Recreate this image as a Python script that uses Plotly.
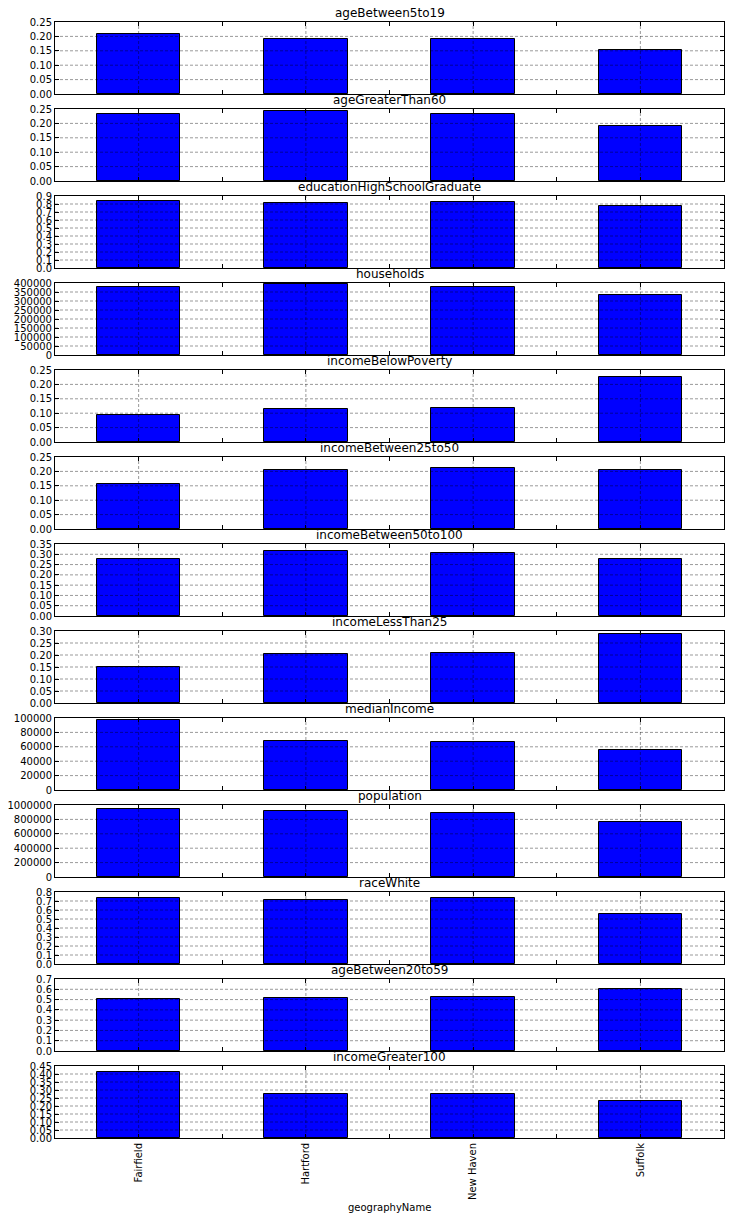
import plotly.graph_objects as go

counties = ["Fairfield", "Hartford", "New Haven", "Suffolk"]

ageBetween5to19 = [0.207, 0.190, 0.190, 0.152]
ageGreaterThan60 = [0.231, 0.242, 0.231, 0.190]
educationHighSchoolGraduate = [0.834, 0.808, 0.825, 0.771]
households = [376000, 394000, 376000, 331000]
incomeBelowPoverty = [0.094, 0.113, 0.117, 0.226]
incomeBetween25to50 = [0.158, 0.204, 0.211, 0.204]
incomeBetween50to100 = [0.275, 0.314, 0.305, 0.275]
incomeLessThan25 = [0.149, 0.203, 0.207, 0.286]
medianIncome = [96800, 68000, 66700, 55700]
population = [940000, 912000, 885000, 760000]
raceWhite = [0.730, 0.708, 0.730, 0.555]
ageBetween20to59 = [0.505, 0.515, 0.528, 0.605]
incomeGreater100 = [0.411, 0.276, 0.276, 0.232]

series_names = ["ageBetween5to19", "ageGreaterThan60", "educationHighSchoolGraduate",
                "households", "incomeBelowPoverty", "incomeBetween25to50",
                "incomeBetween50to100", "incomeLessThan25", "medianIncome",
                "population", "raceWhite", "ageBetween20to59", "incomeGreater100"]
series_values = [ageBetween5to19, ageGreaterThan60, educationHighSchoolGraduate,
                 households, incomeBelowPoverty, incomeBetween25to50,
                 incomeBetween50to100, incomeLessThan25, medianIncome,
                 population, raceWhite, ageBetween20to59, incomeGreater100]
# y axis (max, step, decimals)
y_max = [0.25, 0.25, 0.9, 400000, 0.25, 0.25, 0.35, 0.30, 100000, 1000000, 0.8, 0.7, 0.45]
y_step = [0.05, 0.05, 0.1, 50000, 0.05, 0.05, 0.05, 0.05, 20000, 200000, 0.1, 0.1, 0.05]
y_dec = [2, 2, 1, 0, 2, 2, 2, 2, 0, 0, 1, 1, 2]

W, H = 730, 1220
top, bottom_px = 22, 1138
ph, gap = 72, 15
n = len(series_names)
plot_h = bottom_px - top

font = "DejaVu Sans, Arial, sans-serif"
grid_line = dict(color="rgba(0,0,0,0.4)", width=1, dash="3px,2px")
fig = go.Figure()
xpos = list(range(len(counties)))
annotations = []
shapes = []

for i, (name, vals) in enumerate(zip(series_names, series_values)):
    k = "" if i == 0 else str(i + 1)
    y_top_px = top + i * (ph + gap)
    y_bot_px = y_top_px + ph
    d_top = 1 - (y_top_px - top) / plot_h
    d_bot = 1 - (y_bot_px - top) / plot_h
    fig.add_trace(go.Bar(
        x=xpos, y=vals, width=0.5,
        marker=dict(color="#0000ff", line=dict(color="black", width=1)),
        xaxis="x" + k, yaxis="y" + k, showlegend=False, hoverinfo="y"))
    nt = int(round(y_max[i] / y_step[i]))
    tv = [j * y_step[i] for j in range(nt + 1)]
    tt = [f"{v:.{y_dec[i]}f}" for v in tv]
    last = (i == n - 1)
    xa = dict(domain=[0, 1], range=[-0.5, 3.5], anchor="y" + k,
              tickvals=xpos, ticktext=counties if last else [""] * 4,
              showticklabels=last, tickangle=-90, layer="above traces",
              ticks="inside", ticklen=4, tickcolor="black",
              showline=True, linecolor="black", linewidth=1, mirror="ticks",
              showgrid=False, zeroline=False,
              tickfont=dict(size=10, color="black", family=font),
              minor=dict(tickvals=[0.5, 1.5, 2.5], ticks="inside", ticklen=4,
                         tickcolor="black", showgrid=False))
    ya = dict(domain=[d_bot, d_top], range=[0, y_max[i]], anchor="x" + k,
              tickvals=tv, ticktext=tt, layer="above traces",
              ticks="inside", ticklen=4, tickcolor="black",
              showline=True, linecolor="black", linewidth=1, mirror="ticks",
              showgrid=False, zeroline=False,
              tickfont=dict(size=10, color="black", family=font))
    fig.update_layout(**{"xaxis" + k: xa, "yaxis" + k: ya})
    # grid drawn above the bars (matplotlib classic style)
    for v in tv[1:-1]:
        shapes.append(dict(type="line", xref=f"x{k} domain", yref="y" + k,
                           x0=0, x1=1, y0=v, y1=v, line=grid_line, layer="above"))
    for xp in xpos:
        shapes.append(dict(type="line", xref="x" + k, yref=f"y{k} domain",
                           x0=xp, x1=xp, y0=0, y1=1, line=grid_line, layer="above"))
    annotations.append(dict(text=name, x=0.5, y=d_top, xref="paper", yref="paper",
                            xanchor="center", yanchor="bottom", yshift=0, showarrow=False,
                            font=dict(size=12, color="black", family=font)))

annotations.append(dict(text="geographyName", x=0.5, y=0, xref="paper", yref="paper",
                        xanchor="center", yanchor="middle", yshift=-69, showarrow=False,
                        font=dict(size=10, color="black", family=font)))

fig.update_layout(width=W, height=H, margin=dict(l=55, r=6, t=top, b=H - bottom_px, pad=0),
                  paper_bgcolor="white", plot_bgcolor="white", bargap=0,
                  annotations=annotations, shapes=shapes,
                  font=dict(family=font, color="black"))

fig.write_html("out.html")
